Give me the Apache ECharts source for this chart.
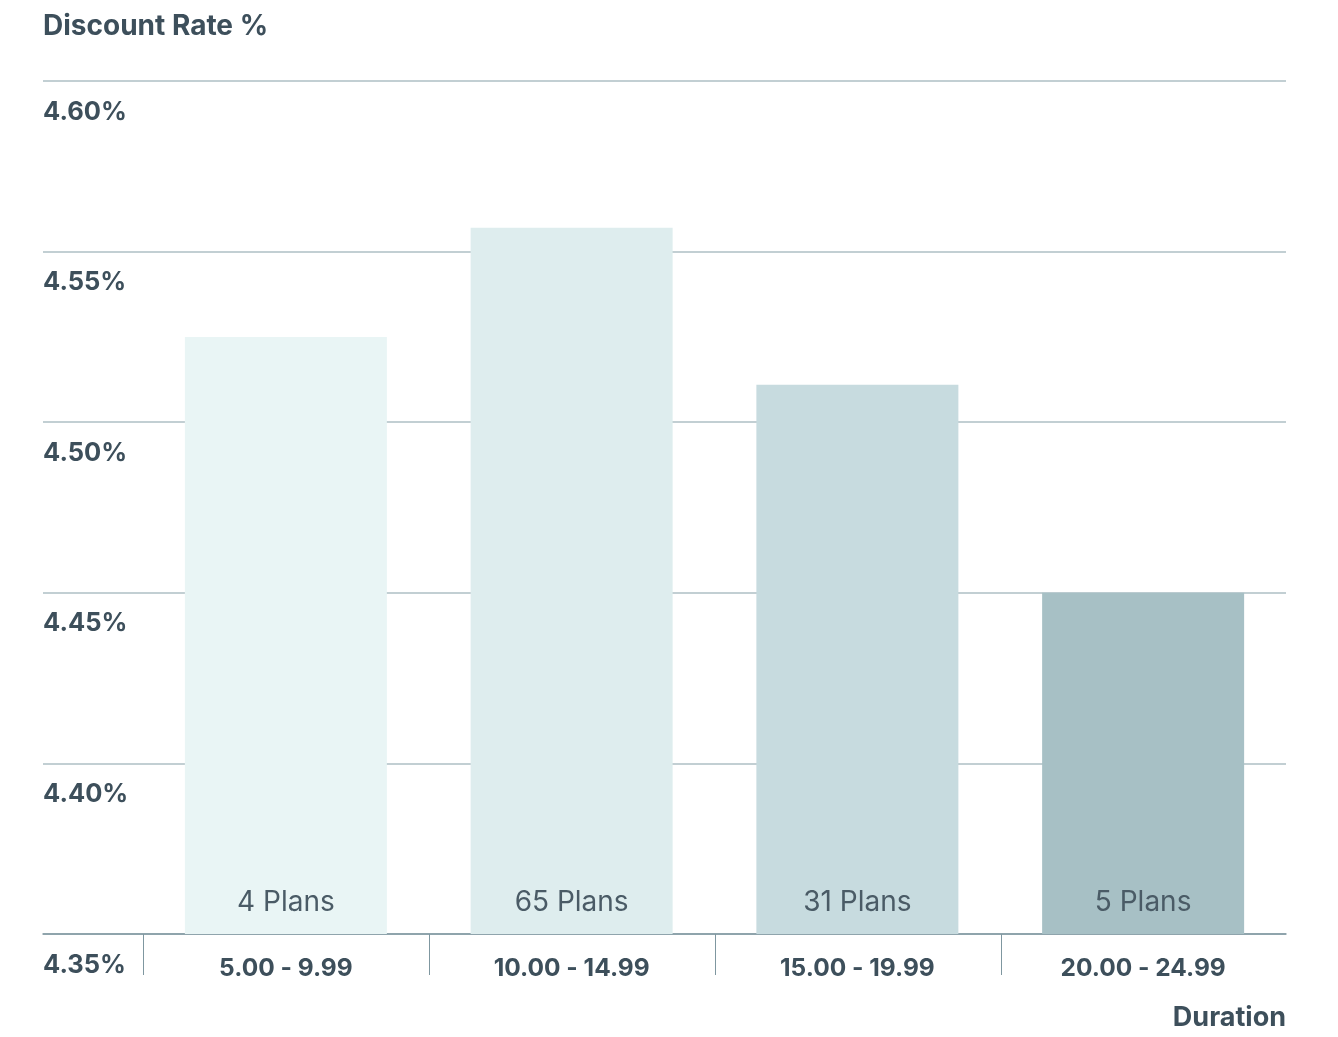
<!DOCTYPE html>
<html>
<head>
<meta charset="utf-8">
<script src="https://cdn.jsdelivr.net/npm/echarts@6/dist/echarts.min.js"></script>
<style>
  html, body { margin: 0; padding: 0; background: #fff; }
  #chart { width: 1338px; height: 1037px; }
</style>
</head>
<body>
<div id="chart"></div>
<script>
// data
const durations = ["5.00 - 9.99", "10.00 - 14.99", "15.00 - 19.99", "20.00 - 24.99"];
const discountRates = [4.525, 4.557, 4.511, 4.45];
const planCounts = [4, 65, 31, 5];
const yTicks = [4.35, 4.4, 4.45, 4.5, 4.55, 4.6];

const barColors = ["#e9f5f5", "#deedee", "#c7dbdf", "#a7c0c5"];
const textColor = "#3d4f5b";
const font = "Inter, Liberation Sans, Arial, sans-serif";

const chart = echarts.init(document.getElementById("chart"));

const option = {
  animation: false,
  textStyle: { fontFamily: font },
  title: [
    {
      text: "Discount Rate %",
      left: 43,
      top: 13,
      padding: 0,
      textStyle: { fontSize: 28, fontWeight: "bold", color: textColor, fontFamily: font },
    },
    {
      text: "Duration",
      right: 52,
      top: 1004,
      padding: 0,
      textStyle: { fontSize: 27, fontWeight: "bold", color: textColor, fontFamily: font },
    },
  ],
  grid: [
    // gridlines + y labels (full width)
    { left: 43, right: 52, top: 81, bottom: 103 },
    // bars
    { left: 143, right: 52, top: 81, bottom: 103 },
    // category dividers
    { left: 143, right: 337, top: 81, bottom: 103 },
  ],
  xAxis: [
    {
      gridIndex: 0,
      type: "value",
      min: 0,
      max: 1,
      axisLine: { show: true, lineStyle: { color: "#7f97a0", width: 1.5 } },
      axisTick: { show: false },
      axisLabel: { show: false },
      splitLine: { show: false },
    },
    {
      gridIndex: 1,
      type: "category",
      data: durations,
      axisLine: { show: false },
      axisTick: { show: false },
      axisLabel: {
        margin: 22,
        fontSize: 24.5,
        fontWeight: "bold",
        color: textColor,
        fontFamily: font,
      },
    },
    {
      gridIndex: 2,
      type: "value",
      min: 0,
      max: durations.length - 1,
      interval: 1,
      axisLine: { show: false },
      axisTick: { show: true, length: 41, lineStyle: { color: "#7f97a0", width: 1 } },
      axisLabel: { show: false },
      splitLine: { show: false },
    },
  ],
  yAxis: [
    {
      gridIndex: 0,
      type: "value",
      min: yTicks[0],
      max: yTicks[yTicks.length - 1],
      interval: 0.05,
      axisLine: { show: false },
      axisTick: { show: false },
      splitLine: { show: true, lineStyle: { color: "#aebfc4", width: 1.5 } },
      axisLabel: {
        inside: true,
        margin: 0,
        verticalAlign: "top",
        padding: [18, 0, 0, 0],
        fontSize: 25.5,
        fontWeight: "bold",
        color: textColor,
        fontFamily: font,
        formatter: (v) => v.toFixed(2) + "%",
      },
    },
    {
      gridIndex: 1,
      type: "value",
      min: yTicks[0],
      max: yTicks[yTicks.length - 1],
      show: false,
    },
    {
      gridIndex: 2,
      type: "value",
      show: false,
    },
  ],
  series: [
    {
      type: "bar",
      xAxisIndex: 1,
      yAxisIndex: 1,
      barWidth: 202,
      data: discountRates.map((v, i) => ({
        value: v,
        itemStyle: { color: barColors[i] },
      })),
      label: {
        show: true,
        position: "insideBottom",
        distance: 17,
        fontSize: 28,
        color: "#4a5b66",
        fontFamily: font,
        formatter: (p) => planCounts[p.dataIndex] + " Plans",
      },
    },
  ],
};

chart.setOption(option);
</script>
</body>
</html>
